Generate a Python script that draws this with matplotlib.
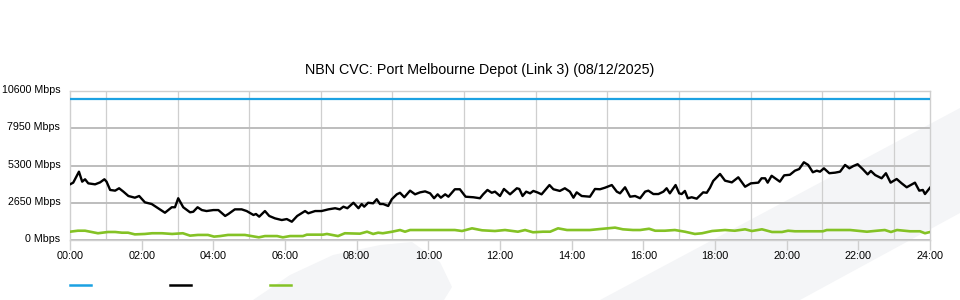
import matplotlib
matplotlib.use("Agg")
import matplotlib.pyplot as plt
import matplotlib.transforms as mtransforms
from matplotlib.patches import Polygon
from matplotlib.lines import Line2D

plt.rcParams['font.family'] = ['Liberation Sans', 'DejaVu Sans']

title = "NBN CVC: Port Melbourne Depot (Link 3) (08/12/2025)"

# capacity (flat)
cap_hours = [0, 24]
cap_mbps = [10000, 10000]

# download traffic (hours, Mbps)
dl_hours = [0.00, 0.09, 0.25, 0.34, 0.42, 0.51, 0.70, 0.84, 0.96, 1.02, 1.12, 1.26, 1.37, 1.49,
            1.63, 1.81, 1.93, 2.09, 2.28, 2.46, 2.65, 2.84, 2.93, 3.02, 3.16, 3.35, 3.44, 3.56,
            3.68, 3.81, 4.00, 4.14, 4.33, 4.42, 4.60, 4.79, 4.93, 5.12, 5.19, 5.28, 5.44, 5.56,
            5.72, 5.91, 6.05, 6.19, 6.34, 6.56, 6.65, 6.84, 7.02, 7.21, 7.40, 7.53, 7.63, 7.74,
            7.91, 8.05, 8.14, 8.21, 8.32, 8.46, 8.56, 8.65, 8.74, 8.88, 8.98, 9.12, 9.21, 9.33,
            9.49, 9.63, 9.77, 9.91, 10.05, 10.16, 10.26, 10.35, 10.47, 10.56, 10.74, 10.88, 11.04,
            11.26, 11.44, 11.53, 11.65, 11.77, 11.86, 12.00, 12.11, 12.28, 12.47, 12.54, 12.63,
            12.73, 12.84, 12.93, 13.04, 13.16, 13.38, 13.49, 13.67, 13.81, 13.95, 14.05, 14.14,
            14.28, 14.51, 14.65, 14.79, 14.93, 15.12, 15.26, 15.35, 15.49, 15.63, 15.77, 15.91,
            16.05, 16.14, 16.28, 16.42, 16.56, 16.65, 16.74, 16.90, 17.00, 17.07, 17.16, 17.24,
            17.35, 17.49, 17.67, 17.77, 17.86, 17.95, 18.14, 18.28, 18.47, 18.65, 18.84, 19.00,
            19.21, 19.30, 19.40, 19.47, 19.58, 19.72, 19.81, 19.93, 20.09, 20.23, 20.35, 20.48,
            20.60, 20.73, 20.84, 20.93, 21.04, 21.19, 21.35, 21.49, 21.63, 21.75, 21.86, 21.98,
            22.12, 22.26, 22.35, 22.47, 22.65, 22.77, 22.90, 23.07, 23.21, 23.35, 23.58, 23.70,
            23.80, 23.86, 24.00]
dl_mbps = [3960, 4080, 4860, 4150, 4320, 4030, 3960, 4100, 4320, 4150, 3560, 3510, 3680, 3440,
           3130, 3010, 3130, 2680, 2560, 2260, 1940, 2330, 2330, 2970, 2330, 1970, 2010, 2330,
           2130, 2060, 2130, 2130, 1710, 1850, 2180, 2180, 2060, 1780, 1850, 1660, 2060, 1710,
           1540, 1420, 1490, 1300, 1710, 2060, 1900, 2060, 2060, 2180, 2260, 2180, 2370, 2260,
           2650, 2260, 2560, 2370, 2650, 2610, 2900, 2560, 2560, 2420, 2900, 3250, 3360, 3040,
           3510, 3250, 3390, 3460, 3320, 2970, 3250, 3010, 3250, 3080, 3610, 3610, 3080,
           3040, 2970, 3250, 3560, 3360, 3440, 3130, 3630, 3250, 3680, 3630, 3130,
           3440, 3320, 3490, 3390, 3250, 3910, 3610, 3490, 3680, 3440, 3010, 3390,
           3130, 3080, 3630, 3610, 3720, 3910, 3440, 3320, 3750, 3080, 3130, 2970,
           3440, 3510, 3270, 3270, 3440, 3680, 3320, 3910, 3320, 3270, 3490, 2970,
           3040, 2940, 3390, 3360, 3720, 4200, 4700, 4220, 4100, 4460, 3790, 4030,
           4080, 4390, 4390, 4080, 4570, 4320, 4150, 4600, 4640, 4930, 5050, 5530,
           5340, 4820, 4930, 4860, 5100, 4750, 4790, 4860, 5340, 5100, 5260, 5390,
           5050, 4670, 4910, 4620, 4390, 4750, 4080, 4340, 4030, 3750, 4080, 3510,
           3560, 3270, 3720]

# upload traffic (hours, Mbps)
ul_hours = [0.00, 0.22, 0.42, 0.56, 0.78, 1.06, 1.26, 1.45, 1.62, 1.81, 2.09, 2.29, 2.57, 2.85,
            3.15, 3.35, 3.57, 3.85, 4.02, 4.19, 4.41, 4.88, 5.27, 5.44, 5.78, 5.94, 6.14, 6.50,
            6.61, 7.06, 7.17, 7.48, 7.67, 8.09, 8.29, 8.46, 8.60, 8.73, 8.99, 9.21, 9.35, 9.49,
            10.74, 10.94, 11.22, 11.50, 11.86, 12.14, 12.50, 12.70, 12.92, 13.20, 13.40, 13.62,
            13.87, 14.51, 14.79, 15.21, 15.43, 15.71, 15.91, 16.16, 16.33, 16.60, 16.88, 17.16,
            17.44, 17.64, 17.92, 18.28, 18.55, 18.84, 19.03, 19.31, 19.59, 19.87, 20.04, 20.23,
            20.65, 21.01, 21.12, 21.77, 22.24, 22.52, 22.74, 22.91, 23.08, 23.44, 23.72, 23.86,
            24.00]
ul_mbps = [590, 660, 660, 590, 480, 570, 570, 520, 520, 400, 430, 480, 480, 430,
           480, 310, 360, 360, 240, 280, 360, 360, 190, 280, 280, 190, 280, 280,
           380, 380, 430, 280, 480, 450, 590, 430, 520, 480, 590, 710, 590, 710,
           710, 640, 830, 690, 640, 710, 590, 710, 550, 590, 590, 830,
           710, 710, 780, 880, 760, 710, 710, 800, 660, 660, 710, 590,
           430, 480, 640, 710, 660, 760, 640, 760, 570, 570, 660, 620,
           620, 620, 710, 710, 590, 660, 710, 570, 710, 620, 620, 480,
           570]

y_ticks = [0, 2650, 5300, 7950, 10600]
x_ticks = list(range(0, 25, 2))
x_labels = ["%02d:00" % h for h in x_ticks]

blue = "#1ba1e2"
green = "#84c225"
grid_col = "#cfcfcf"

fig = plt.figure(figsize=(9.6, 3.0), dpi=100)

# faint background watermark (figure pixel coords), behind the axes
wm = "#f4f5f7"
fig.patches.append(Polygon([(600, 0), (960, 192), (960, 87), (800, 0)], closed=True,
                           transform=None, facecolor=wm, edgecolor="none", zorder=-5))
fig.patches.append(Polygon([(253, 0), (290, 25), (333, 45), (380, 55), (412, 58), (440, 38),
                            (452, 13), (444, 0)], closed=True,
                           transform=None, facecolor=wm, edgecolor="none", zorder=-5))

ax = fig.add_axes([70 / 960, 60 / 300, 860 / 960, 149 / 300])
ax.patch.set_alpha(0)
ax.set_zorder(1)

ax.plot(cap_hours, cap_mbps, color=blue, lw=1.6, zorder=3)
ax.plot(dl_hours, dl_mbps, color="black", lw=1.7, zorder=3)
ax.plot(ul_hours, ul_mbps, color=green, lw=1.9, zorder=3)

ax.set_xlim(0, 24)
ax.set_ylim(0, 10600)

# hourly vertical grid, horizontal grid at y ticks
ax.set_xticks(range(0, 25), minor=True)
ax.grid(True, which="minor", axis="x", color=grid_col, lw=0.9)
ax.set_yticks(y_ticks)
ax.set_yticklabels(["%d Mbps" % v for v in y_ticks], fontsize=7.7)
ax.grid(True, which="major", axis="y", color="#bdbdbd", lw=1.4)
ax.set_xticks(x_ticks)
ax.set_xticklabels(x_labels, fontsize=7.8)
ax.tick_params(axis="x", which="major", length=7, color=grid_col, width=1, pad=1)
ax.tick_params(axis="x", which="minor", length=0)
ax.tick_params(axis="y", length=0, pad=7)
for sp in ax.spines.values():
    sp.set_color(grid_col)
    sp.set_linewidth(1.0)

# y labels sit slightly above their grid lines
shift = mtransforms.ScaledTranslation(0, 2 / 100, fig.dpi_scale_trans)
for lab in ax.get_yticklabels():
    lab.set_transform(lab.get_transform() + shift)

fig.text(0.5, 1 - 70 / 300, title, ha="center", va="center", fontsize=10.3)

# legend swatches without labels
for x0, c in [(70, blue), (170, "black"), (270, green)]:
    fig.add_artist(Line2D([x0 / 960, (x0 + 21) / 960], [15 / 300, 15 / 300], color=c, lw=1.8))

fig.savefig("out.png", dpi=100)
